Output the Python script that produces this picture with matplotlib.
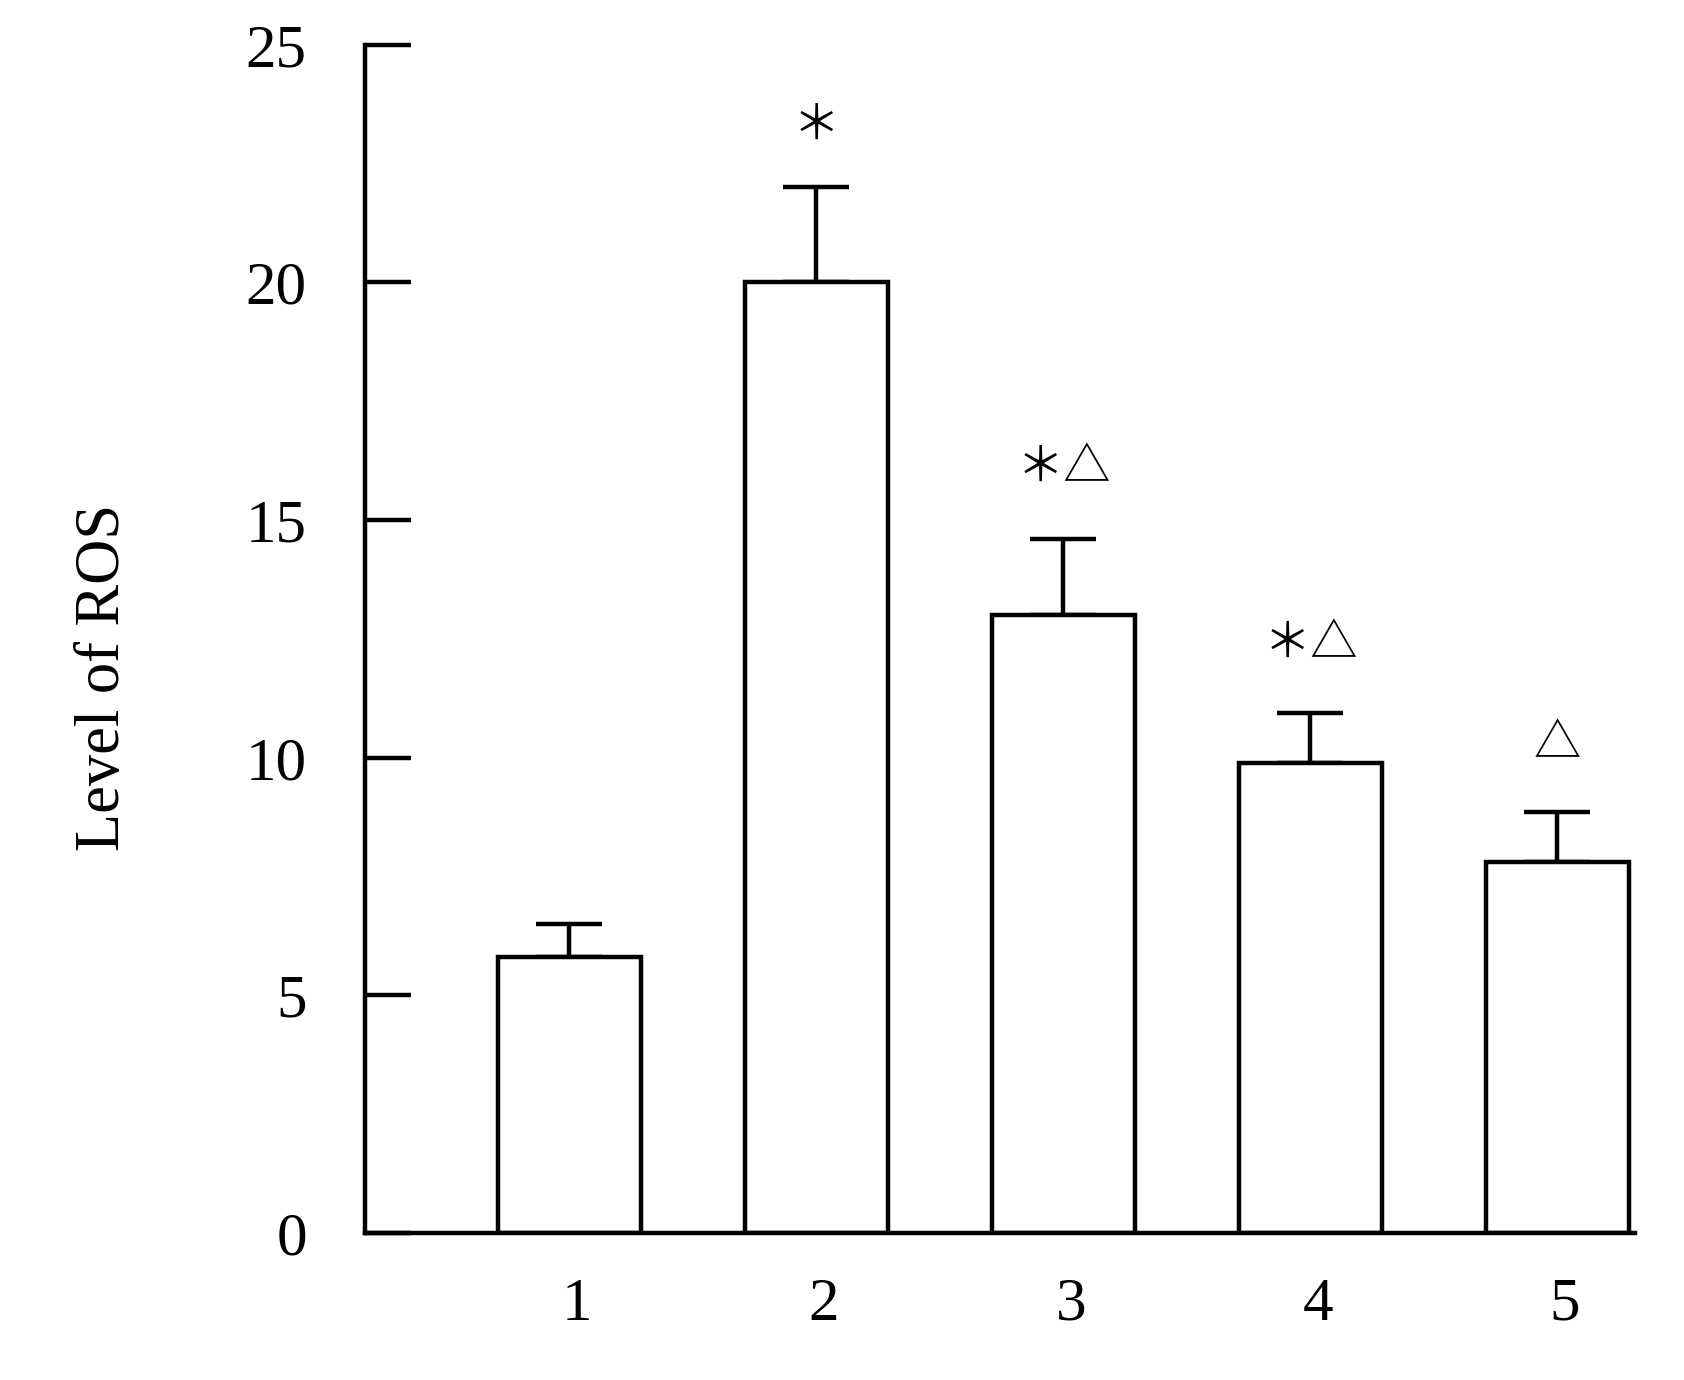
import matplotlib.pyplot as plt
import numpy as np

# 数据
groups = ['1', '2', '3', '4', '5']
ros_mean = [5.8, 20.0, 13.0, 9.9, 7.8]
ros_err = [0.7, 2.0, 1.6, 1.05, 1.05]
marks = ['', '＊', '＊△', '＊△', '△']
mark_y = [0, 23.3, 16.1, 12.4, 10.3]

plt.rcParams['font.family'] = ['Liberation Serif', 'DejaVu Serif']
lw = 3.2

fig = plt.figure(figsize=(16.84, 13.8), dpi=100)
ax = fig.add_axes([0.2168, 0.1065, 0.754, 0.861])

x = np.arange(1, len(groups) + 1)
ax.bar(x, ros_mean, width=0.58, color='white', edgecolor='black', linewidth=lw, zorder=2)
ax.errorbar(x, ros_mean, yerr=[np.zeros(len(x)), ros_err], fmt='none',
            ecolor='black', elinewidth=lw, capsize=24, capthick=lw, zorder=1)

for xi, m, yy in zip(x, marks, mark_y):
    if m:
        ax.text(xi, yy, m, ha='center', va='center', fontsize=34,
                family=['Noto Sans CJK SC', 'DejaVu Sans'])

ax.set_xlim(0.174, 5.313)
ax.set_ylim(0, 25)
ax.set_yticks([0, 5, 10, 15, 20, 25])
ax.set_xticks(x + 0.03)
ax.set_xticklabels(groups)

for s in ['top', 'right']:
    ax.spines[s].set_visible(False)
ax.spines['left'].set_linewidth(lw)
ax.spines['bottom'].set_linewidth(lw)

ax.tick_params(axis='y', direction='in', length=33, width=lw, pad=42, labelsize=44)
ax.tick_params(axis='x', length=0, pad=32, labelsize=44)

fig.text(0.062, 0.509, 'Level of ROS', rotation=90, ha='center', va='center', fontsize=45)

plt.savefig('out.png')
